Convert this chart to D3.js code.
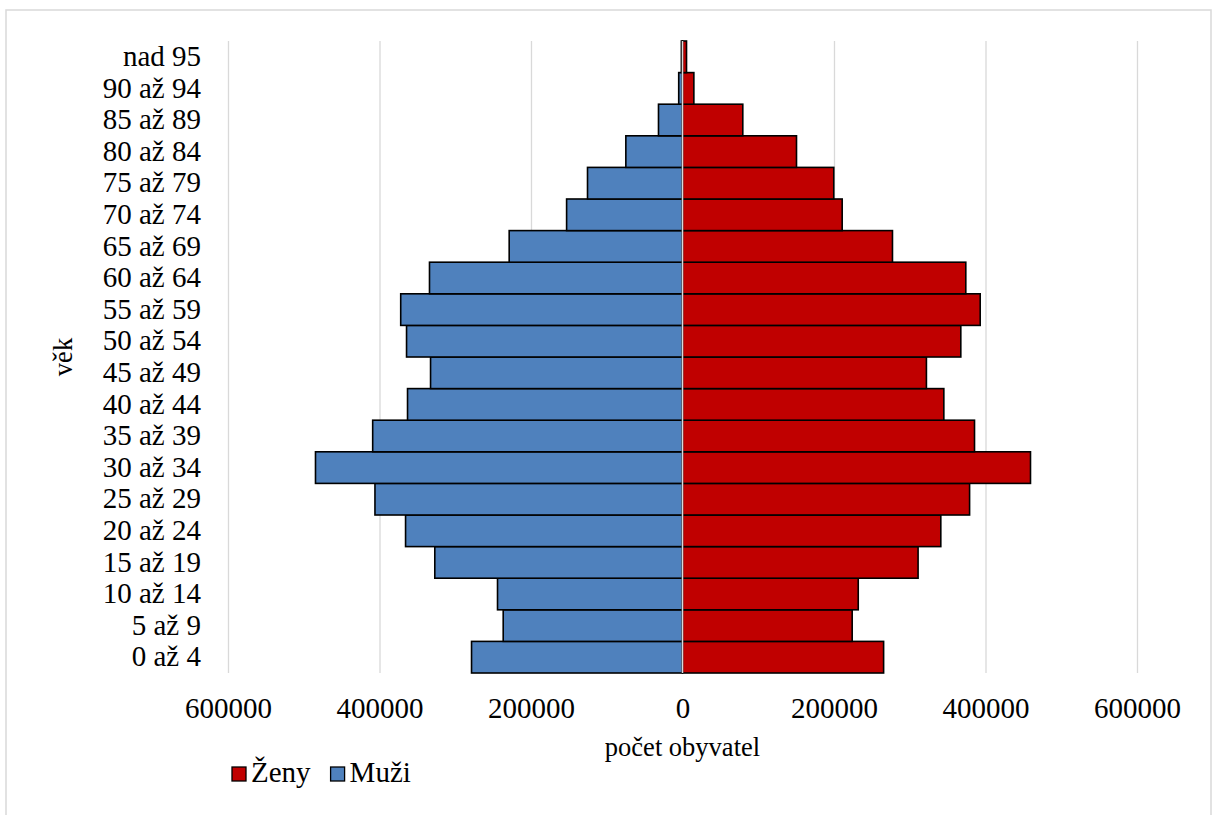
<!DOCTYPE html>
<html>
<head>
<meta charset="utf-8">
<script src="https://cdn.jsdelivr.net/npm/d3@7"></script>
<style>
  body { margin: 0; background: #fff; }
  svg text { font-family: "Liberation Serif", "Times New Roman", serif; fill: #000; }
</style>
</head>
<body>
<div id="chart"></div>
<script>
// age groups, bottom to top
const ageGroups = ["0 až 4", "5 až 9", "10 až 14", "15 až 19", "20 až 24", "25 až 29",
  "30 až 34", "35 až 39", "40 až 44", "45 až 49", "50 až 54", "55 až 59", "60 až 64",
  "65 až 69", "70 až 74", "75 až 79", "80 až 84", "85 až 89", "90 až 94", "nad 95"]

const muzi = [278500, 236700, 244200, 327000, 365600, 406000, 484500, 409000, 363000,
  332600, 364300, 372000, 334000, 228800, 153000, 125400, 74800, 31700, 5000, 1500]

const zeny = [265500, 224000, 232000, 311000, 341000, 379000, 459400, 385500, 345000,
  322000, 367400, 393000, 374000, 277200, 210800, 199700, 150500, 79600, 15000, 5300]

const xTicks = [-600000, -400000, -200000, 0, 200000, 400000, 600000]

const legendItems = [
  {name: "Ženy", color: "#c00000"},
  {name: "Muži", color: "#4f81bd"}
]

const width = 1216, height = 815
const margin = {top: 41, right: 79, bottom: 142, left: 228}
const innerW = width - margin.left - margin.right
const innerH = height - margin.top - margin.bottom

const svg = d3.select("#chart").append("svg")
  .attr("width", width)
  .attr("height", height)

// outer frame
svg.append("rect")
  .attr("x", 6).attr("y", 10)
  .attr("width", 1205).attr("height", 830)
  .attr("fill", "none")
  .attr("stroke", "#d9d9d9")
  .attr("stroke-width", 1.5)

const g = svg.append("g")
  .attr("transform", `translate(${margin.left},${margin.top})`)

const x = d3.scaleLinear()
  .domain([-600000, 600000])
  .range([0, innerW])

const y = d3.scaleBand()
  .domain(ageGroups.slice().reverse())
  .range([0, innerH])
  .padding(0)

// gridlines
g.append("g")
  .attr("class", "grid")
  .call(d3.axisBottom(x).tickValues(xTicks).tickSize(innerH).tickFormat(""))
  .call(s => s.select(".domain").remove())
  .call(s => s.selectAll("line").attr("stroke", "#d9d9d9").attr("stroke-width", 1.3))

const rows = ageGroups.map((a, i) => ({age: a, m: muzi[i], z: zeny[i]}))

g.selectAll(".muzi").data(rows).join("rect")
  .attr("class", "muzi")
  .attr("x", d => x(-d.m))
  .attr("y", d => y(d.age))
  .attr("width", d => x(0) - x(-d.m))
  .attr("height", y.bandwidth())
  .attr("fill", "#4f81bd")
  .attr("stroke", "#000")
  .attr("stroke-width", 1.6)

g.selectAll(".zeny").data(rows).join("rect")
  .attr("class", "zeny")
  .attr("x", x(0))
  .attr("y", d => y(d.age))
  .attr("width", d => x(d.z) - x(0))
  .attr("height", y.bandwidth())
  .attr("fill", "#c00000")
  .attr("stroke", "#000")
  .attr("stroke-width", 1.6)

// vertical axis line at zero
g.append("line")
  .attr("x1", x(0)).attr("x2", x(0))
  .attr("y1", 0).attr("y2", innerH)
  .attr("stroke", "#d9d9d9")
  .attr("stroke-width", 1.5)

// x axis
g.append("g")
  .attr("transform", `translate(0,${innerH})`)
  .call(d3.axisBottom(x).tickValues(xTicks).tickSize(0).tickPadding(24)
    .tickFormat(d => Math.abs(d)))
  .call(s => s.select(".domain").remove())
  .call(s => s.selectAll("text").style("font-size", "29px"))

// y axis labels
g.append("g")
  .call(d3.axisLeft(y).tickSize(0).tickPadding(27))
  .call(s => s.select(".domain").remove())
  .call(s => s.selectAll("text").style("font-size", "29px"))

// axis titles
svg.append("text")
  .attr("x", margin.left + x(0))
  .attr("y", 756)
  .attr("text-anchor", "middle")
  .style("font-size", "26.5px")
  .text("počet obyvatel")

svg.append("text")
  .attr("transform", `translate(72,${margin.top + innerH / 2}) rotate(-90)`)
  .attr("text-anchor", "middle")
  .style("font-size", "26.5px")
  .text("věk")

// legend
const legend = svg.append("g")
  .attr("transform", "translate(232,767)")

let lx = 0
legendItems.forEach(item => {
  const it = legend.append("g").attr("transform", `translate(${lx},0)`)
  it.append("rect")
    .attr("width", 14).attr("height", 14)
    .attr("fill", item.color)
    .attr("stroke", "#000")
    .attr("stroke-width", 1.3)
  const t = it.append("text")
    .attr("x", 19)
    .attr("y", 14.5)
    .style("font-size", "29px")
    .text(item.name)
  lx += 19 + t.node().getComputedTextLength() + 20
})
</script>
</body>
</html>
